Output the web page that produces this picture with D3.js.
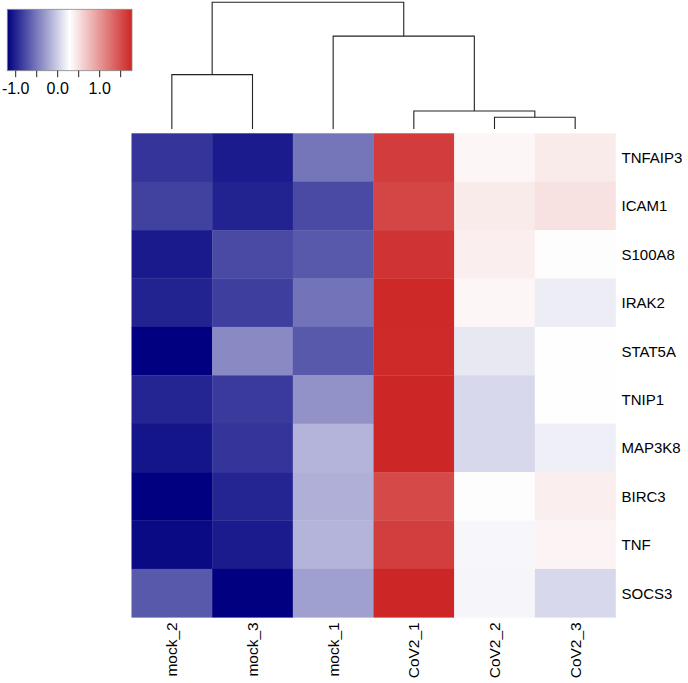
<!DOCTYPE html>
<html>
<head>
<meta charset="utf-8">
<script src="https://cdn.jsdelivr.net/npm/d3@7"></script>
<style>
  html, body { margin: 0; padding: 0; background: #fff; }
  svg { display: block; font-family: "Liberation Sans", Arial, sans-serif; }
</style>
</head>
<body>
<svg id="chart" width="688" height="683"></svg>
<script>
// ---- data ----
const genes = ["TNFAIP3","ICAM1","S100A8","IRAK2","STAT5A","TNIP1","MAP3K8","BIRC3","TNF","SOCS3"];
const samples = ["mock_2","mock_3","mock_1","CoV2_1","CoV2_2","CoV2_3"];
// row-scaled expression (z-scores), one array per sample, in gene order
const mock_2 = [-0.90,-0.82,-1.05,-1.00,-1.20,-0.99,-1.08,-1.20,-1.14,-0.68];
const mock_3 = [-1.04,-1.00,-0.77,-0.84,-0.40,-0.86,-0.90,-0.99,-1.04,-1.20];
const mock_1 = [-0.52,-0.77,-0.68,-0.53,-0.68,-0.35,-0.15,-0.18,-0.15,-0.27];
const CoV2_1 = [1.62,1.56,1.68,1.75,1.74,1.77,1.77,1.53,1.61,1.77];
const CoV2_2 = [0.35,0.42,0.40,0.35,0.15,0.06,0.06,0.30,0.24,0.23];
const CoV2_3 = [0.42,0.49,0.30,0.18,0.28,0.28,0.19,0.40,0.36,0.06];
const seriesBySample = {mock_2, mock_3, mock_1, CoV2_1, CoV2_2, CoV2_3};
// column dendrogram merges: [left, right, height]
const merges = [
  ["CoV2_2","CoV2_3",0.48],
  ["CoV2_1","n1",0.74],
  ["mock_2","mock_3",2.23],
  ["mock_1","n2",3.81],
  ["n3","n4",5.2]
];
const keyTicks = [-1.0,-0.5,0.0,0.5,1.0,1.5];
const keyLabels = [-1.0,0.0,1.0];

// ---- layout ----
const svg = d3.select("#chart");
const hm = {x0: 131.5, x1: 615.5, y0: 133.3, y1: 617.3};

const x = d3.scaleBand().domain(samples).range([hm.x0, hm.x1]).padding(0);
const y = d3.scaleBand().domain(genes).range([hm.y0, hm.y1]).padding(0);

const cells = [];
samples.forEach(s => genes.forEach((g, i) => cells.push({s, g, v: seriesBySample[s][i]})));
const ext = d3.extent(cells, d => d.v);
const mid = (ext[0] + ext[1]) / 2;
const color = d3.scaleLinear().domain([ext[0], mid, ext[1]])
  .range(["#000080", "#ffffff", "#CD2626"]).interpolate(d3.interpolateRgb);

// heatmap cells
svg.append("g").selectAll("rect").data(cells).join("rect")
  .attr("x", d => x(d.s)).attr("y", d => y(d.g))
  .attr("width", x.bandwidth() + 0.3).attr("height", y.bandwidth() + 0.3)
  .attr("fill", d => color(d.v));

// row labels
svg.append("g").selectAll("text").data(genes).join("text")
  .attr("x", hm.x1 + 6).attr("y", d => y(d) + y.bandwidth() / 2 + 5.5)
  .attr("font-size", 15).attr("fill", "#000").text(d => d);

// column labels
svg.append("g").selectAll("text").data(samples).join("text")
  .attr("transform", d => `translate(${x(d) + x.bandwidth() / 2 + 5.6},${hm.y1 + 5}) rotate(-90)`)
  .attr("text-anchor", "end").attr("font-size", 15.5).attr("fill", "#000").text(d => d);

// dendrogram
const hy = d3.scaleLinear().domain([0, d3.max(merges, m => m[2])]).range([129, 2.3]);
const nodes = {};
samples.forEach(s => nodes[s] = {x: x(s) + x.bandwidth() / 2, h: 0});
const dg = svg.append("g").attr("fill", "none").attr("stroke", "#222").attr("stroke-width", 1.1);
merges.forEach((m, i) => {
  const a = nodes[m[0]], b = nodes[m[1]], h = m[2];
  const yh = hy(h);
  dg.append("path").attr("d",
    `M${a.x},${hy(a.h)}V${yh}H${b.x}V${hy(b.h)}`);
  nodes["n" + (i + 1)] = {x: (a.x + b.x) / 2, h};
});

// color key
const key = {x0: 7.3, x1: 132, y0: 9.3, y1: 70.7};
const kx = d3.scaleLinear().domain(ext).range([key.x0, key.x1]);
const defs = svg.append("defs");
const grad = defs.append("linearGradient").attr("id", "kg")
  .attr("x1", "0%").attr("x2", "100%").attr("y1", "0%").attr("y2", "0%");
d3.range(0, 1.0001, 0.05).forEach(t => {
  grad.append("stop").attr("offset", (t * 100) + "%")
    .attr("stop-color", color(ext[0] + t * (ext[1] - ext[0])));
});
svg.append("rect").attr("x", key.x0).attr("y", key.y0)
  .attr("width", key.x1 - key.x0).attr("height", key.y1 - key.y0)
  .attr("fill", "url(#kg)").attr("stroke", "#888").attr("stroke-width", 0.8);
const kt = svg.append("g");
kt.selectAll("line").data(keyTicks).join("line")
  .attr("x1", d => kx(d)).attr("x2", d => kx(d))
  .attr("y1", key.y1).attr("y2", key.y1 + 6.5)
  .attr("stroke", "#222").attr("stroke-width", 1);
kt.selectAll("text").data(keyLabels).join("text")
  .attr("x", d => kx(d)).attr("y", 93.5).attr("text-anchor", "middle")
  .attr("font-size", 16).attr("fill", "#000")
  .text(d => d3.format(".1f")(d).replace("−", "-"));
</script>
</body>
</html>
